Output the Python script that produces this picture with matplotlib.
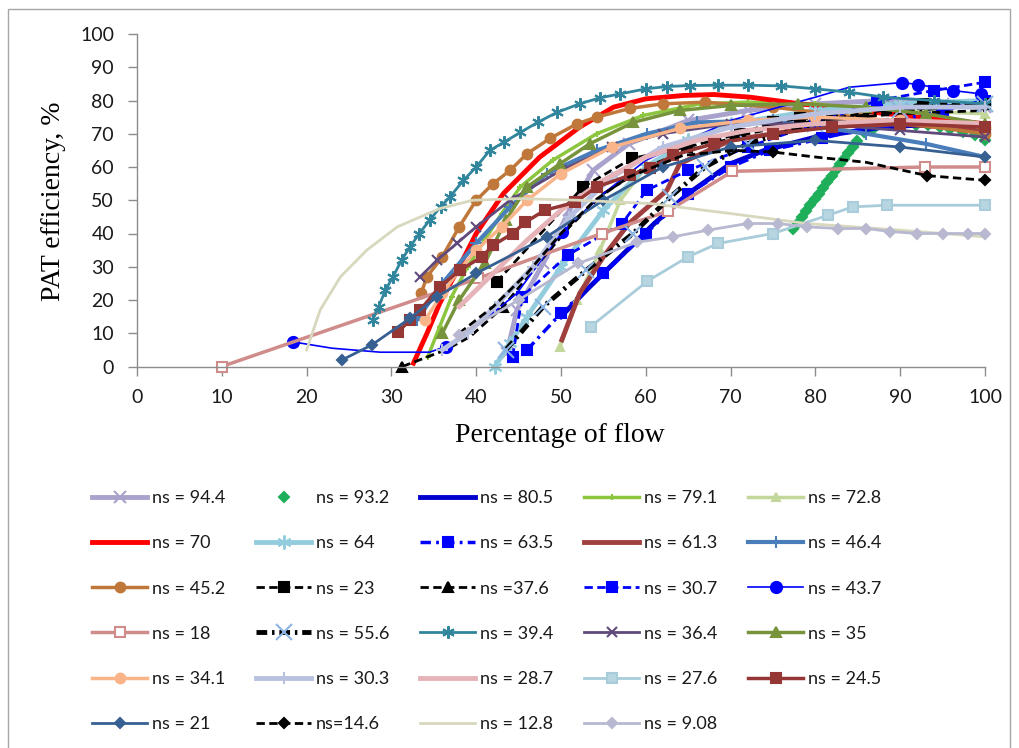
import matplotlib
matplotlib.use("Agg")
import matplotlib.pyplot as plt
from matplotlib.patches import Rectangle

# ---- data (percentage of flow, PAT efficiency %) ----
labels = ["ns = 94.4", "ns = 93.2", "ns = 80.5", "ns = 79.1", "ns = 72.8",
          "ns = 70", "ns = 64", "ns = 63.5", "ns = 61.3", "ns = 46.4",
          "ns = 45.2", "ns = 23", "ns =37.6", "ns = 30.7", "ns = 43.7",
          "ns = 18", "ns = 55.6", "ns = 39.4", "ns = 36.4", "ns = 35",
          "ns = 34.1", "ns = 30.3", "ns = 28.7", "ns = 27.6", "ns = 24.5",
          "ns = 21", "ns=14.6", "ns = 12.8", "ns = 9.08"]

x_944 = [43.6, 44.8, 47.9, 51, 53.8, 58, 65, 72, 80, 88, 95, 100]
y_944 = [4, 17, 31, 47, 59, 67, 74, 77, 79, 80, 79, 78]

x_932 = [77.4, 77.9, 78.4, 78.9, 79.4, 79.9, 80.4, 80.9, 81.4, 81.9, 82.4, 82.9,
         83.4, 83.9, 84.4, 84.9, 85.7, 86.8, 88.6, 90, 91.9, 93.3, 94.7, 95.9,
         97.4, 98.8, 100]
y_932 = [41.5, 43.3, 45, 46.8, 48.5, 50.3, 52, 53.8, 55.5, 57.3, 59, 60.8,
         62.5, 64.3, 66, 67.8, 70.5, 71.5, 73, 73, 72.5, 72.5, 72, 71.5,
         70.5, 69.5, 68]

x_805 = [50, 53, 57, 61, 65, 70, 74, 80, 88, 95, 100]
y_805 = [15, 23, 33, 43, 52, 61, 65, 69, 72, 73, 73]

x_791 = [34.3, 35.7, 37.1, 39, 41, 43, 45.2, 49, 54.2, 59.7, 66.4, 72, 80, 90, 100]
y_791 = [3, 12, 21, 30, 38, 46, 54, 62, 70, 75.5, 79, 79.5, 79, 76, 72]

x_728 = [49.9, 51.9, 54.6, 57, 60, 65, 70, 80, 90, 100]
y_728 = [6, 20, 35, 50, 60, 68, 73, 76, 77, 76]

x_70 = [32.6, 34.2, 35.7, 38, 40, 43.2, 47.5, 52.2, 56.2, 60, 64.4, 68, 72.3,
        78.2, 85, 92, 100]
y_70 = [1, 10, 19, 30, 40, 52, 63, 72, 78, 80.5, 81.5, 81.8, 81, 79, 77, 75, 73]

x_64 = [42.2, 44, 46, 50, 55, 60, 65, 70, 80, 90, 100]
y_64 = [0, 7, 15, 30, 47, 60, 68, 73, 77, 79, 80]

x_635 = [46, 50, 55, 60, 65, 70, 74.6, 80.8, 88, 95, 100]
y_635 = [5, 16, 28, 40, 52, 60, 65, 68.6, 73, 77, 80]

x_613 = [50.1, 52.2, 55, 58, 62.5, 64, 70, 80, 90, 100]
y_613 = [8, 22, 33, 43, 53, 61, 68, 72, 73, 71]

x_464 = [33, 36, 40, 44, 48.3, 54.2, 60.1, 66, 75, 86, 93, 100]
y_464 = [14, 25, 37, 48, 58, 65, 70, 73.4, 74, 70, 67, 63]

x_452 = [33.5, 34.2, 36, 38, 40, 42, 44, 46, 48.7, 51.9, 54.2, 58.1, 62, 67,
         75, 85, 100]
y_452 = [22, 27, 33, 42, 50, 55, 59, 64, 68.6, 73, 75, 77.6, 79, 79.5, 78, 75, 70]

x_23 = [42.4, 52.6, 58.4, 64.9, 71.1, 75, 78.2, 82, 92.7, 100]
y_23 = [25.4, 54, 62.6, 66, 70, 73.4, 74.6, 74.6, 79, 79]

x_376 = [31.3, 36.4, 39.3, 43.2, 47, 51, 55, 60, 65, 72, 80, 90, 100]
y_376 = [0, 5, 9, 18, 30, 42, 52, 60, 65, 70, 74, 76, 77]

x_307 = [44.3, 45.4, 50.8, 57.2, 60.1, 65, 72, 80, 87.3, 94, 100]
y_307 = [3, 21, 33.5, 43, 53, 59, 66, 73, 80, 83, 85.5]

x_437 = [18.4, 23, 28.7, 34.5, 36.4, 40, 44.8, 50.1, 55, 60, 70, 80, 84,
         90.2, 92.1, 96.2, 99.5]
y_437 = [7.4, 5.5, 4.3, 4.3, 6, 12, 22, 40.4, 52, 62, 74, 81, 84,
         85.4, 84.8, 83, 82]

x_18 = [10, 40.2, 54.8, 62.6, 70.2, 92.9, 100]
y_18 = [0, 26.5, 40, 46.7, 58.7, 60, 60]

x_556 = [43.5, 47.9, 53, 58.5, 62.9, 67, 72, 80, 90, 100]
y_556 = [5, 18, 29, 40, 51, 60, 67, 73, 77, 79]

x_394 = [27.8, 28.5, 29.3, 30.2, 31.2, 32.2, 33.3, 34.5, 35.8, 36.9, 38.5, 40,
         41.6, 43.3, 45.2, 47.3, 49.5, 52.2, 54.6, 57, 60, 62.5, 65.2, 68.5,
         72, 76, 80, 84, 88, 94, 100]
y_394 = [14, 18, 23, 27, 32, 36, 40, 44, 48, 51, 56, 60,
         65, 67.5, 70.4, 73.5, 76.4, 79, 80.8, 82, 83.5, 84.2, 84.5, 84.6,
         84.6, 84.4, 83.5, 82.5, 81, 80, 79]

x_364 = [33.4, 35.4, 37.7, 40, 44, 50, 56, 62, 70, 80, 90, 100]
y_364 = [27, 32, 37, 42, 50, 59, 66, 70, 73, 73, 71, 69]

x_35 = [36, 38, 41, 43.5, 46, 49.9, 53.4, 58.5, 64, 70, 78, 86, 93, 100]
y_35 = [10, 20, 31, 44, 54, 61, 67, 73.4, 77, 78.5, 79, 78, 76, 73]

x_341 = [34, 36, 38, 40, 43, 46, 50, 56, 64, 72, 80, 90, 100]
y_341 = [14, 22, 29, 35, 42, 50, 58, 66, 71.6, 74, 75, 74, 72]

x_303 = [36, 39, 42.2, 46.7, 51, 56, 62, 70, 80, 90, 100]
y_303 = [5, 10, 18, 30, 45, 57, 66, 72, 76, 78, 78]

x_287 = [38, 42, 46, 50, 55, 60, 66, 72, 80, 90, 100]
y_287 = [18, 28, 38, 47, 56, 63, 68, 71, 73, 74, 73]

x_276 = [53.5, 60.2, 65, 68.5, 75, 81.5, 84.4, 88.4, 100]
y_276 = [12, 25.7, 33, 37, 40, 45.5, 48, 48.5, 48.5]

x_245 = [30.8, 32.2, 33.4, 35.7, 38.1, 40.7, 42, 44.3, 45.8, 48.1, 51.7, 54.2,
         58.1, 60.5, 63.2, 68, 75, 82, 90, 100]
y_245 = [10.4, 14, 17, 24, 29, 33, 36.5, 40, 43.4, 47, 49.4, 54,
         57.5, 59.6, 63.5, 67, 70, 72, 73, 72]

x_21 = [24.2, 27.7, 32.2, 35.4, 40, 48.3, 55, 62, 70, 80, 90, 100]
y_21 = [2, 6.5, 14.5, 21, 28, 39, 50, 60, 66, 68, 66, 63]

x_146 = [38, 42, 46, 50, 54, 58, 64.4, 70.3, 75, 80, 86, 93.2, 100]
y_146 = [10, 18, 28, 40, 50, 57, 63.5, 65, 64.5, 63, 61.4, 57.4, 56]

x_128 = [20, 21.6, 24, 27.1, 30.7, 35.7, 39.6, 45, 52, 60.6, 70, 79, 90, 100]
y_128 = [5, 17, 27, 35, 42, 47.5, 50, 50.5, 50, 49, 46, 43, 41, 39]

x_908 = [38, 45, 52, 59, 63.2, 67.3, 72, 75.6, 79, 82.7, 86, 88.8, 92, 95, 98, 100]
y_908 = [9.5, 20, 31, 37.4, 39, 41, 43, 43, 42, 41.5, 41.5, 40.6, 40, 40, 40, 40]

xs = [x_944, x_932, x_805, x_791, x_728, x_70, x_64, x_635, x_613, x_464,
      x_452, x_23, x_376, x_307, x_437, x_18, x_556, x_394, x_364, x_35,
      x_341, x_303, x_287, x_276, x_245, x_21, x_146, x_128, x_908]
ys = [y_944, y_932, y_805, y_791, y_728, y_70, y_64, y_635, y_613, y_464,
      y_452, y_23, y_376, y_307, y_437, y_18, y_556, y_394, y_364, y_35,
      y_341, y_303, y_287, y_276, y_245, y_21, y_146, y_128, y_908]

ast = (6, 2, 0)
dash = (3, 1.6)
# style per series: color, lw, linestyle, marker, markersize, marker face, marker edge
styles = [
    dict(color="#A8A2CC", lw=3.5, ls="-", marker="x", ms=9, mfc="#A8A2CC", mec="#A8A2CC"),
    dict(color="#1FAF5A", lw=0, ls="none", marker="D", ms=5.5, mfc="#1FAF5A", mec="#1FAF5A"),
    dict(color="#0000CC", lw=3.5, ls="-", marker=None, ms=0, mfc="none", mec="none"),
    dict(color="#8CC63F", lw=2.5, ls="-", marker="+", ms=5, mfc="#8CC63F", mec="#8CC63F"),
    dict(color="#C4D79B", lw=2.5, ls="-", marker="^", ms=6, mfc="#C4D79B", mec="#C4D79B"),
    dict(color="#FF0000", lw=3.5, ls="-", marker=None, ms=0, mfc="none", mec="none"),
    dict(color="#93CDDD", lw=3.5, ls="-", marker=ast, ms=10, mfc="#93CDDD", mec="#93CDDD"),
    dict(color="#0000FF", lw=2.5, ls=(0, (3, 1.5, 0.8, 1.5)), marker="s", ms=7, mfc="#0000FF", mec="#0000FF"),
    dict(color="#A0403E", lw=3.5, ls="-", marker=None, ms=0, mfc="none", mec="none"),
    dict(color="#4A7EBB", lw=3, ls="-", marker="+", ms=9, mfc="#4A7EBB", mec="#4A7EBB"),
    dict(color="#C0783A", lw=2.5, ls="-", marker="o", ms=7, mfc="#C0783A", mec="#C0783A"),
    dict(color="#000000", lw=2, ls=(0, dash), marker="s", ms=7, mfc="#000000", mec="#000000"),
    dict(color="#000000", lw=2, ls=(0, dash), marker="^", ms=7, mfc="#000000", mec="#000000"),
    dict(color="#0000FF", lw=2, ls=(0, dash), marker="s", ms=7, mfc="#0000FF", mec="#0000FF"),
    dict(color="#0000FF", lw=1.2, ls="-", marker="o", ms=8, mfc="#0000FF", mec="#0000FF"),
    dict(color="#CF8C8A", lw=2.5, ls="-", marker="s", ms=7, mfc="white", mec="#CF8C8A"),
    dict(color="#000000", lw=3.5, ls=(0, (2.2, 1, 0.5, 1)), marker="x", ms=11, mfc="#8DB4E2", mec="#8DB4E2"),
    dict(color="#31859C", lw=2, ls="-", marker=ast, ms=9, mfc="#31859C", mec="#31859C"),
    dict(color="#604A7B", lw=2, ls="-", marker="x", ms=7, mfc="#604A7B", mec="#604A7B"),
    dict(color="#77933C", lw=2.5, ls="-", marker="^", ms=7, mfc="#77933C", mec="#77933C"),
    dict(color="#FAB48A", lw=2.5, ls="-", marker="o", ms=7, mfc="#FAB48A", mec="#FAB48A"),
    dict(color="#B9C1E0", lw=3.5, ls="-", marker="+", ms=9, mfc="#B9C1E0", mec="#B9C1E0"),
    dict(color="#E6B4B8", lw=3.5, ls="-", marker=None, ms=0, mfc="none", mec="none"),
    dict(color="#A9CCDA", lw=2, ls="-", marker="s", ms=7, mfc="#B7D6E2", mec="#A9CCDA"),
    dict(color="#953735", lw=2.5, ls="-", marker="s", ms=7, mfc="#953735", mec="#953735"),
    dict(color="#376092", lw=2, ls="-", marker="D", ms=5, mfc="#376092", mec="#376092"),
    dict(color="#000000", lw=2, ls=(0, dash), marker="D", ms=5, mfc="#000000", mec="#000000"),
    dict(color="#D8D8BE", lw=2, ls="-", marker=None, ms=0, mfc="none", mec="none"),
    dict(color="#B8B8D0", lw=2, ls="-", marker="D", ms=5, mfc="#B8B8D0", mec="#B8B8D0"),
]

# only some points carry a visible marker in the original
mark_at = {12: [0, 3], 14: [0, 4, 7, 13, 14, 15, 16], 26: [8, 11, 12]}

fig = plt.figure(figsize=(10.19, 7.48), dpi=100)
ax = fig.add_axes([137 / 1019, 1 - 366.5 / 748, 848 / 1019, 332.5 / 748])

lines = []
for k, (x, y, st) in enumerate(zip(xs, ys, styles)):
    ln, = ax.plot(x, y, color=st["color"], lw=st["lw"], ls=st["ls"],
                  marker=st["marker"], ms=st["ms"], mfc=st["mfc"], mec=st["mec"],
                  mew=1.5, clip_on=False, markevery=mark_at.get(k))
    lines.append(ln)

ax.set_xlim(0, 100)
ax.set_ylim(0, 100)
ax.set_xticks(range(0, 101, 10))
ax.set_yticks(range(0, 101, 10))
for s in ["top", "right"]:
    ax.spines[s].set_visible(False)
for s in ["left", "bottom"]:
    ax.spines[s].set_color("#8C8C8C")
    ax.spines[s].set_linewidth(1)
ax.tick_params(direction="out", length=6.5, width=1, color="#8C8C8C", pad=10,
               labelsize=14, labelcolor="#1A1A1A")
for lb in ax.get_xticklabels() + ax.get_yticklabels():
    lb.set_family("Lato")

fig.text(53 / 1019, 1 - 201 / 748, "PAT efficiency, %", rotation=90,
         ha="center", va="center", fontsize=20, family="Liberation Serif")
fig.text(560 / 1019, 1 - 436 / 748, "Percentage of flow",
         ha="center", va="center", fontsize=20, family="Liberation Serif")

# legend: Excel order is row-wise, matplotlib fills column-wise
order = []
for c in range(5):
    for r in range(6):
        i = r * 5 + c
        if i < len(lines):
            order.append(i)
leg = fig.legend([lines[i] for i in order], [labels[i] for i in order],
                 loc="upper left", bbox_to_anchor=(92 / 1019, 1 - 490 / 748),
                 ncol=5, frameon=False, numpoints=1, handlelength=3.05,
                 handletextpad=0.25, columnspacing=1.72, labelspacing=1.62,
                 borderpad=0, borderaxespad=0,
                 prop={"family": "Lato", "size": 13})
for t in leg.get_texts():
    t.set_color("#1A1A1A")

fig.patches.append(Rectangle((8 / 1019, -0.01), 1002 / 1019, 1 - 9 / 748 + 0.01,
                             transform=fig.transFigure, fill=False,
                             edgecolor="#A6A6A6", lw=1))

fig.savefig("out.png", dpi=100)
